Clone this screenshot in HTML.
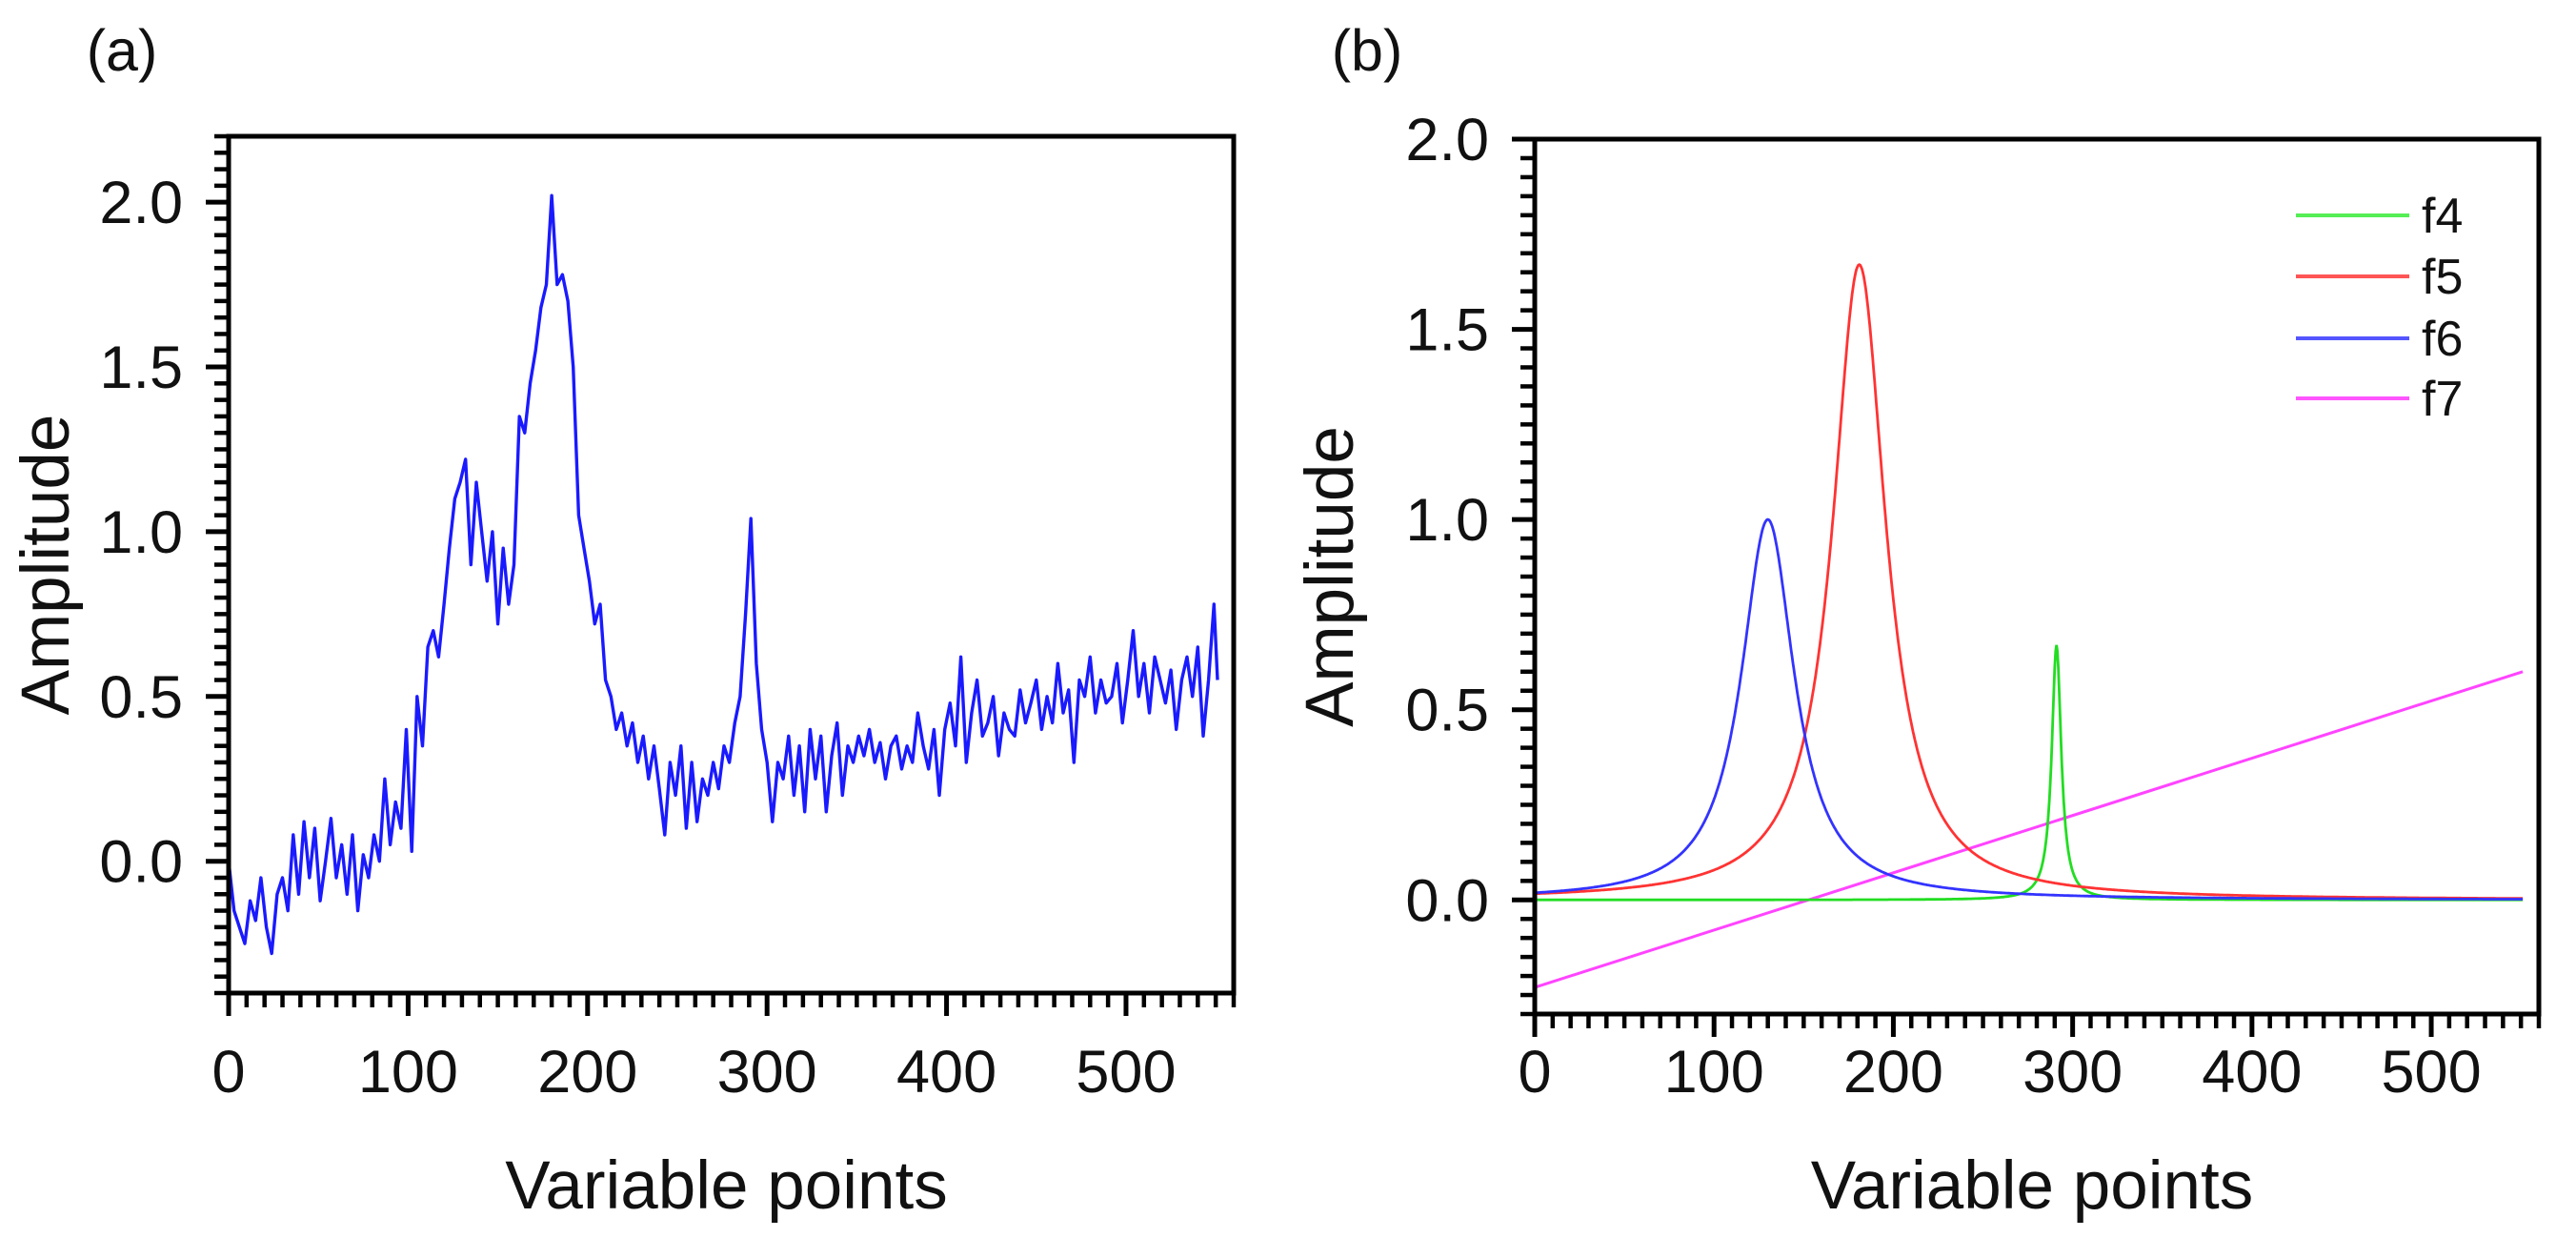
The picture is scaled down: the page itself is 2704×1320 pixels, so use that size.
<!DOCTYPE html>
<html><head><meta charset="utf-8"><style>
html,body{margin:0;padding:0;background:#fff;}
svg{display:block;font-family:"Liberation Sans",sans-serif;}
</style></head><body>
<svg id="fig" width="2704" height="1320" viewBox="0 0 2704 1320" xmlns="http://www.w3.org/2000/svg"></svg>
<script>
// ---- Panel (a) data ----
const aX = [0,3,6,9,12,15,18,21,24,27,30,33,36,39,42,45,48,51,54,57,60,63,66,69,72,75,78,81,84,87,90,93,96,99,102,105,108,111,114,117,120,123,126,129,132,135,138,141,144,147,150,153,156,159,162,165,168,171,174,177,180,183,186,189,192,195,198,201,204,207,210,213,216,219,222,225,228,231,234,237,240,243,246,249,252,255,258,261,264,267,270,273,276,279,282,285,288,291,294,297,300,303,306,309,312,315,318,321,324,327,330,333,336,339,342,345,348,351,354,357,360,363,366,369,372,375,378,381,384,387,390,393,396,399,402,405,408,411,414,417,420,423,426,429,432,435,438,441,444,447,450,453,456,459,462,465,468,471,474,477,480,483,486,489,492,495,498,501,504,507,510,513,516,519,522,525,528,531,534,537,540,543,546,549,551];
const aY = [0,-0.15,-0.2,-0.25,-0.12,-0.18,-0.05,-0.2,-0.28,-0.1,-0.05,-0.15,0.08,-0.1,0.12,-0.05,0.1,-0.12,0,0.13,-0.05,0.05,-0.1,0.08,-0.15,0.02,-0.05,0.08,0,0.25,0.05,0.18,0.1,0.4,0.03,0.5,0.35,0.65,0.7,0.62,0.78,0.95,1.1,1.15,1.22,0.9,1.15,1.0,0.85,1.0,0.72,0.95,0.78,0.9,1.35,1.3,1.45,1.55,1.68,1.75,2.02,1.75,1.78,1.7,1.5,1.05,0.95,0.85,0.72,0.78,0.55,0.5,0.4,0.45,0.35,0.42,0.3,0.38,0.25,0.35,0.22,0.08,0.3,0.2,0.35,0.1,0.3,0.12,0.25,0.2,0.3,0.22,0.35,0.3,0.42,0.5,0.75,1.04,0.6,0.4,0.3,0.12,0.3,0.25,0.38,0.2,0.35,0.15,0.4,0.25,0.38,0.15,0.32,0.42,0.2,0.35,0.3,0.38,0.32,0.4,0.3,0.36,0.25,0.35,0.38,0.28,0.35,0.3,0.45,0.35,0.28,0.4,0.2,0.4,0.48,0.35,0.62,0.3,0.45,0.55,0.38,0.42,0.5,0.32,0.45,0.4,0.38,0.52,0.42,0.48,0.55,0.4,0.5,0.42,0.6,0.45,0.52,0.3,0.55,0.5,0.62,0.45,0.55,0.48,0.5,0.6,0.42,0.55,0.7,0.5,0.6,0.45,0.62,0.55,0.48,0.58,0.4,0.55,0.62,0.5,0.65,0.38,0.55,0.78,0.55];
// ---- Panel (b) data: Lorentzian components + linear baseline ----
const bNames = ["f4","f5","f6"];
const bColors = ["#22dd22","#ff3333","#3333ff"];
const bCenters = [291,181,130];
const bAmps = [0.67,1.67,1.0];
const bWidths = [3.2,18,18];
const f7Start = [0,-0.23];
const f7End = [551,0.60];
const xTicks = [0,100,200,300,400,500];
const aYTicks = [0,0.5,1.0,1.5,2.0];
const bYTicks = [0,0.5,1.0,1.5,2.0];

const NS="http://www.w3.org/2000/svg";
const svg=document.getElementById('fig');
function mk(tag,attrs,parent){const e=document.createElementNS(NS,tag);for(const k in attrs)e.setAttribute(k,attrs[k]);(parent||svg).appendChild(e);return e;}

function panel(p){
  const g=mk('g',{});
  
  
  const sx=v=>p.L+(v-p.x0)/(p.x1-p.x0)*(p.R-p.L);
  const sy=v=>p.B-(v-p.y0)/(p.y1-p.y0)*(p.B-p.T);
  for(let v=p.x0;v<=p.x1+1e-6;v+=10){
    const major=Math.abs(v%100)<1e-6;
    const t=mk('line',{x1:sx(v),x2:sx(v),y1:p.B,y2:p.B+(major?24:15),stroke:'#000','stroke-width':major?5:4.5},g);
    
    
  }
  for(let i=Math.round(p.y0*20);i<=Math.round(p.y1*20);i++){
    const v=i/20;const major=(i%10===0);
    const t=mk('line',{x1:p.L,x2:p.L-(major?24:15),y1:sy(v),y2:sy(v),stroke:'#000','stroke-width':major?5:4.5},g);
    
    
  }
  xTicks.forEach(v=>{const t=mk('text',{x:sx(v),y:1146,'font-size':63,'text-anchor':'middle',fill:'#111'},g);t.textContent=String(v);
    
    });
  p.yt.forEach(v=>{const t=mk('text',{x:p.L-48,y:sy(v)+22,'font-size':63,'text-anchor':'end',fill:'#111'},g);t.textContent=v.toFixed(1);
    
    });
  const xt=mk('text',{x:(p.L+p.R)/2-5,y:1268,'font-size':71,'text-anchor':'middle',fill:'#111'},g);xt.textContent='Variable points';
  
  
  const yt=mk('text',{x:0,y:0,'font-size':71,'text-anchor':'middle',fill:'#111',transform:`translate(${p.yx},${(p.T+p.B)/2}) rotate(-90)`},g);yt.textContent='Amplitude';
  
  
  const lab=mk('text',{x:p.labx,y:74,'font-size':61,'text-anchor':'middle',fill:'#111'},g);lab.textContent=p.label;
  
  
  return {g,sx,sy};
}

const pa={name:'panel-a',L:240,R:1295,T:143,B:1042,x0:0,x1:560,y0:-0.4,y1:2.2,yt:aYTicks,yx:72,labx:128,label:'(a)'};
const A=panel(pa);
let d='';aX.forEach((x,i)=>{d+=(i?'L':'M')+A.sx(x).toFixed(1)+','+A.sy(aY[i]).toFixed(1);});
const la=mk('path',{d,fill:'none',stroke:'#1a1aff','stroke-width':3.4,'stroke-linejoin':'round'},A.g);


const fa=mk('rect',{x:pa.L,y:pa.T,width:pa.R-pa.L,height:pa.B-pa.T,fill:'none',stroke:'#000','stroke-width':5},A.g);



const pb={name:'panel-b',L:1611,R:2665,T:146,B:1064,x0:0,x1:560,y0:-0.3,y1:2.0,yt:bYTicks,yx:1420,labx:1435,label:'(b)'};
const B=panel(pb);
const l7=mk('line',{x1:B.sx(f7Start[0]),y1:B.sy(f7Start[1]),x2:B.sx(f7End[0]),y2:B.sy(f7End[1]),stroke:'#ff44ff','stroke-width':3},B.g);


bNames.forEach((n,k)=>{
  let dd='';
  for(let x=0;x<=551;x+=0.5){
    const u=(x-bCenters[k])/bWidths[k];
    const y=bAmps[k]/(1+u*u);
    dd+=(x?'L':'M')+B.sx(x).toFixed(1)+','+B.sy(y).toFixed(1);
  }
  const pl=mk('path',{d:dd,fill:'none',stroke:bColors[k],'stroke-width':2.8},B.g);
  
  
});
const fb=mk('rect',{x:pb.L,y:pb.T,width:pb.R-pb.L,height:pb.B-pb.T,fill:'none',stroke:'#000','stroke-width':5},B.g);


const legNames=["f4","f5","f6","f7"];
const legColors=["#55ee55","#ff5555","#5555ff","#ff55ff"];
const legY=[226,290,355,418];
const lg=mk('g',{},B.g);


legNames.forEach((n,i)=>{
  const e=mk('g',{},lg);
  
  
  mk('line',{x1:2410,x2:2529,y1:legY[i],y2:legY[i],stroke:legColors[i],'stroke-width':4},e);
  const t=mk('text',{x:2542,y:legY[i]+18,'font-size':52,fill:'#111'},e);t.textContent=n;
});
</script>
</body></html>
